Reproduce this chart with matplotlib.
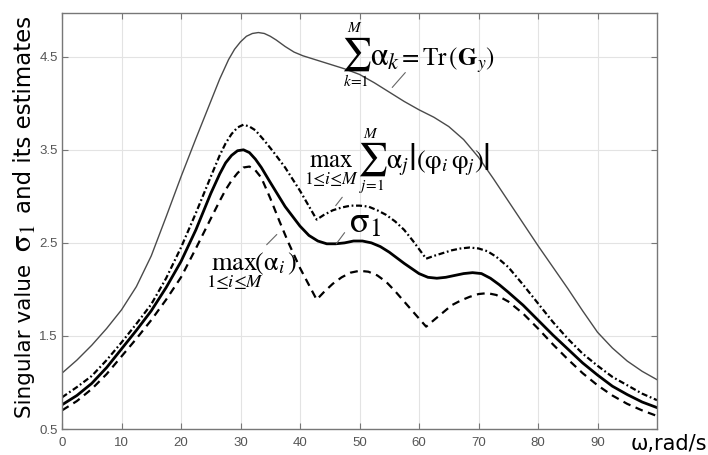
import matplotlib
matplotlib.use("Agg")
import matplotlib.pyplot as plt
import numpy as np

plt.rcParams['mathtext.fontset'] = 'stix'

# frequency (rad/s) and curve values
w_tr = [0, 2.5, 5, 7.5, 10, 12.5, 15, 17.5, 20, 22.5, 25, 26.5, 28, 29, 30, 31, 32, 33, 34,
        35, 36, 37.5, 39, 40.5, 42.5, 45, 47.5, 50, 52.5, 55, 57.5, 60, 62.5, 65, 67.5,
        70, 72.5, 75, 77.5, 80, 82.5, 85, 87.5, 90, 92.5, 95, 97.5, 100]
trace = [1.10, 1.24, 1.40, 1.58, 1.78, 2.03, 2.36, 2.78, 3.21, 3.62, 4.02, 4.26, 4.47,
         4.58, 4.66, 4.72, 4.75, 4.76, 4.75, 4.72, 4.68, 4.61, 4.55, 4.51, 4.47, 4.42,
         4.37, 4.31, 4.22, 4.12, 4.02, 3.93, 3.85, 3.75, 3.61, 3.42, 3.19, 2.95, 2.71,
         2.47, 2.24, 2.01, 1.77, 1.54, 1.37, 1.23, 1.12, 1.03]

w_sig = [0, 2.5, 5, 7.5, 10, 12.5, 15, 17.5, 20, 22.5, 25, 26.5, 27.5, 28.5, 29.5, 30.5,
         31.5, 32.5, 33.5, 35, 37.5, 40, 41.5, 43, 44.5, 46, 47.5, 49, 50.5, 52, 53.5, 55,
         57.5, 60, 61.5, 63, 64.5, 66, 67.5, 69, 70.5, 72, 73.5, 75, 77.5, 80, 82.5, 85,
         87.5, 90, 92.5, 95, 97.5, 100]
sigma1 = [0.76, 0.86, 0.99, 1.16, 1.36, 1.56, 1.77, 2.02, 2.30, 2.64, 3.03, 3.24, 3.36,
          3.44, 3.49, 3.50, 3.47, 3.40, 3.31, 3.15, 2.89, 2.68, 2.58, 2.52, 2.49, 2.49,
          2.50, 2.52, 2.52, 2.50, 2.46, 2.40, 2.28, 2.17, 2.13, 2.12, 2.13, 2.15, 2.17,
          2.18, 2.17, 2.12, 2.05, 1.97, 1.83, 1.67, 1.51, 1.36, 1.21, 1.08, 0.96, 0.87,
          0.79, 0.73]

w_sum = [0, 2.5, 5, 7.5, 10, 12.5, 15, 17.5, 20, 22.5, 25, 26.5, 27.5, 28.5, 29.5, 30.5,
         31.5, 32.5, 34, 35.5, 37.5, 40, 42.8, 44, 45.5, 47, 48.5, 50, 51.5, 53, 54.5, 56,
         57.5, 59, 61.2, 62.5, 64, 65.5, 67, 68.5, 70, 71.5, 73, 75, 77.5, 80, 82.5, 85,
         87.5, 90, 92.5, 95, 97.5, 100]
max_sum = [0.84, 0.95, 1.07, 1.24, 1.43, 1.63, 1.84, 2.12, 2.45, 2.82, 3.21, 3.44, 3.57,
           3.67, 3.74, 3.77, 3.75, 3.71, 3.60, 3.48, 3.31, 3.06, 2.75, 2.80, 2.85, 2.88,
           2.90, 2.90, 2.89, 2.85, 2.80, 2.73, 2.64, 2.52, 2.33, 2.36, 2.39, 2.42, 2.44,
           2.45, 2.44, 2.41, 2.35, 2.24, 2.05, 1.85, 1.65, 1.47, 1.31, 1.18, 1.06, 0.97,
           0.88, 0.81]

w_max = [0, 2.5, 5, 7.5, 10, 12.5, 15, 17.5, 20, 22.5, 25, 26.5, 27.5, 28.5, 29.5, 30.5,
         31.5, 32.5, 33.5, 35, 36.5, 38, 40, 42.8, 44, 45.5, 47, 48.5, 50, 51.5, 53, 54.5,
         56, 57.5, 59, 61.2, 62.5, 64, 65.5, 67, 68.5, 70, 71.5, 73, 75, 77.5, 80, 82.5,
         85, 87.5, 90, 92.5, 95, 97.5, 100]
max_alpha = [0.70, 0.80, 0.93, 1.09, 1.28, 1.47, 1.67, 1.89, 2.13, 2.44, 2.76, 2.95, 3.07,
             3.17, 3.25, 3.31, 3.32, 3.28, 3.20, 2.98, 2.74, 2.51, 2.23, 1.89, 1.97, 2.06,
             2.13, 2.18, 2.20, 2.19, 2.15, 2.08, 1.98, 1.87, 1.76, 1.60, 1.67, 1.75, 1.83,
             1.88, 1.92, 1.95, 1.96, 1.94, 1.87, 1.74, 1.58, 1.41, 1.25, 1.10, 0.97, 0.86,
             0.77, 0.70, 0.64]

xticks = np.arange(0, 100, 10)
yticks = [0.5, 1.5, 2.5, 3.5, 4.5]

W, H = 708, 455
def fxy(xp, yp):
    # pixel position -> figure fraction
    return xp / W, 1 - yp / H

fig = plt.figure(figsize=(7.08, 4.55), dpi=100)
ax = fig.add_axes([62/W, 1-429/H, (657-62)/W, (429-13)/H])

ax.plot(w_tr, trace, color='#4a4a4a', lw=1.0)
ax.plot(w_sum, max_sum, color='black', lw=1.6, linestyle=(0, (2.7, 1.2, 0.8, 1.2)))
ax.plot(w_sig, sigma1, color='black', lw=2.0)
ax.plot(w_max, max_alpha, color='black', lw=1.6, linestyle=(0, (3.5, 2.5)))

ax.set_xlim(0, 100)
ax.set_ylim(0.5, 4.97)
ax.set_xticks(xticks)
ax.set_yticks(yticks)
ax.set_yticklabels(['0.5', '1.5', '2.5', '3.5', '4.5'])
ax.grid(True, color='#e3e3e3', lw=0.8)
ax.set_axisbelow(True)
ax.tick_params(direction='in', length=4, width=0.8, color='#777777',
               labelsize=9.5, labelcolor='#555555', top=True, right=True)
ax.tick_params(axis='x', pad=6)
ax.tick_params(axis='y', pad=3)
for lab in ax.get_xticklabels() + ax.get_yticklabels():
    lab.set_family('Liberation Sans')
for s in ax.spines.values():
    s.set_color('#777777')
    s.set_linewidth(1.0)

# label: sum alpha_k = Tr(G_y)
fig.text(*fxy(356, 54), r'$\sum$', fontsize=24, ha='center', va='center')
fig.text(*fxy(355, 28), r'$M$', fontsize=11, ha='center', va='center')
fig.text(*fxy(356, 81), r'$k\!=\!1$', fontsize=11, ha='center', va='center')
fig.text(*fxy(370, 66), r'$\mathrm{\alpha}_k$', fontsize=23, ha='left', va='baseline')
fig.text(*fxy(398, 66), r'$=\mathrm{Tr}\,(\mathbf{G}_y)$', fontsize=18, ha='left', va='baseline')

# label: max sum alpha_j |(phi_i phi_j)|
fig.text(*fxy(304, 168), r'$\max_{1\leq i\leq M}$', fontsize=18, ha='left', va='baseline')
fig.text(*fxy(372, 159), r'$\sum$', fontsize=24, ha='center', va='center')
fig.text(*fxy(371, 133), r'$M$', fontsize=11, ha='center', va='center')
fig.text(*fxy(372, 186), r'$j\!=\!1$', fontsize=11, ha='center', va='center')
fig.text(*fxy(386, 168), r'$\mathrm{\alpha}_j$', fontsize=20, ha='left', va='baseline')
fig.text(*fxy(412, 159), r'$|$', fontsize=28, ha='center', va='center')
fig.text(*fxy(416, 168), r'$(\mathrm{\varphi}_i\,\mathrm{\varphi}_j)$', fontsize=19,
         ha='left', va='baseline')
fig.text(*fxy(486, 159), r'$|$', fontsize=28, ha='center', va='center')

# label: sigma_1
fig.text(*fxy(349, 232), r'$\mathrm{\sigma}_1$', fontsize=26, ha='left', va='baseline')

# label: max(alpha_i)
fig.text(*fxy(206, 270), r'$\max_{1\leq i\leq M}\!\!(\mathrm{\alpha}_i)$', fontsize=19,
         ha='left', va='baseline')

# leader lines
for xy, xyt in [((55.5, 4.17), (57.7, 4.33)), ((46.0, 2.90), (47.1, 2.99)),
                ((46.1, 2.49), (47.5, 2.61)), ((34.4, 2.48), (36.1, 2.59))]:
    ax.annotate('', xy=xy, xytext=xyt,
                arrowprops=dict(arrowstyle='-', color='#666666', lw=0.8,
                                shrinkA=0, shrinkB=0))

# axis labels
fig.text(*fxy(25, 341), 'Singular value', rotation=90, fontsize=15.5,
         ha='center', va='center', family='DejaVu Sans')
fig.text(*fxy(23, 238), r'$\mathrm{\sigma}_1$', rotation=90, fontsize=22,
         ha='center', va='center')
fig.text(*fxy(25, 114), 'and its estimates', rotation=90, fontsize=16.5,
         ha='center', va='center', family='DejaVu Sans')
fig.text(*fxy(707, 444), 'ω,rad/s', fontsize=15, ha='right', va='center',
         family='DejaVu Sans')

fig.savefig('out.png', dpi=100)
